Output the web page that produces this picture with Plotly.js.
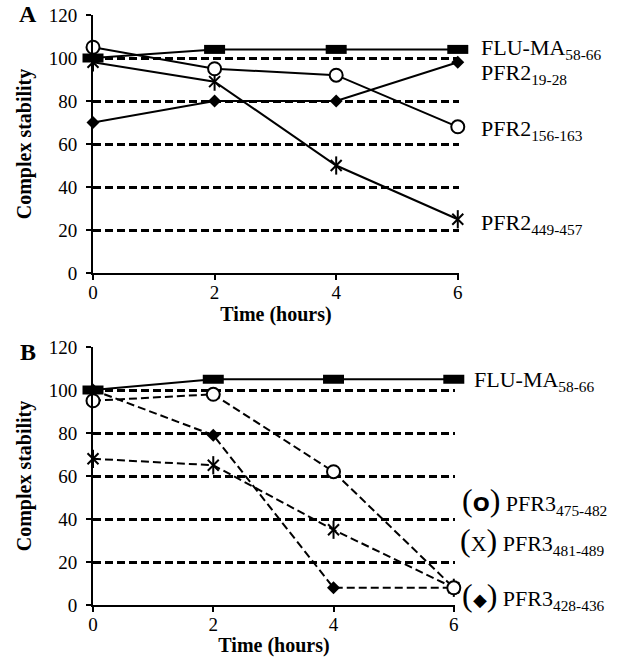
<!DOCTYPE html>
<html>
<head>
<meta charset="utf-8">
<script src="https://cdn.plot.ly/plotly-3.0.1.min.js"></script>
<style>html,body{margin:0;padding:0;background:#fff;}#chart{width:632px;height:657px;}</style>
</head>
<body>
<div id="chart"></div>
<script>
// ---- Data ----
const timeHours = [0, 2, 4, 6];
const xTicks = [0, 2, 4, 6];
const yTicks = [0, 20, 40, 60, 80, 100, 120];

// Panel A
const fluA = [100, 104, 104, 104];
const pfr2_19_28 = [70, 80, 80, 98];
const pfr2_156_163 = [105, 95, 92, 68];
const pfr2_449_457 = [98, 89, 50, 25];

// Panel B
const fluB = [100, 105, 105, 105];
const pfr3_475_482 = [95, 98, 62, 8];
const pfr3_481_489 = [68, 65, 35, 8];
const pfr3_428_436 = [100, 79, 8, 8];

const SERIF = '"Liberation Serif", "Times New Roman", serif';
const BLACK = '#000';
const dashPat = '8px,4px';

function lineTrace(y, xa, ya, dash, marker) {
  return {
    x: timeHours, y: y, xaxis: xa, yaxis: ya, type: 'scatter',
    mode: 'lines+markers', cliponaxis: false, showlegend: false,
    line: {color: BLACK, width: 2, dash: dash},
    marker: marker
  };
}
function markerOnly(y, xa, ya, marker) {
  return {
    x: timeHours, y: y, xaxis: xa, yaxis: ya, type: 'scatter',
    mode: 'markers', cliponaxis: false, showlegend: false, marker: marker
  };
}
const mDiamond = {symbol: 'diamond', size: 10, color: BLACK};
const mCircle = {symbol: 'circle', size: 13, color: '#fff', line: {color: BLACK, width: 2}};
const mX = {symbol: 'x-thin-open', size: 11, color: BLACK, line: {color: BLACK, width: 2}};
const mNS = {symbol: 'line-ns-open', size: 13, color: BLACK, line: {color: BLACK, width: 2}};
const mFlu = {symbol: 'line-ew-open', size: 15, color: BLACK, line: {color: BLACK, width: 9}};

const traces = [
  // Panel A
  lineTrace(pfr2_19_28, 'x', 'y', 'solid', mDiamond),
  lineTrace(pfr2_449_457, 'x', 'y', 'solid', mX),
  markerOnly(pfr2_449_457, 'x', 'y', mNS),
  lineTrace(pfr2_156_163, 'x', 'y', 'solid', mCircle),
  lineTrace(fluA, 'x', 'y', 'solid', mFlu),
  // Panel B
  lineTrace(pfr3_428_436, 'x2', 'y2', dashPat, mDiamond),
  lineTrace(pfr3_481_489, 'x2', 'y2', dashPat, mX),
  markerOnly(pfr3_481_489, 'x2', 'y2', mNS),
  lineTrace(pfr3_475_482, 'x2', 'y2', dashPat, mCircle),
  lineTrace(fluB, 'x2', 'y2', 'solid', mFlu)
];

const W = 632, H = 657;
function yAxis(domTop, domBot) {
  return {
    domain: [1 - domBot / H, 1 - domTop / H],
    range: [0, 120], tickvals: yTicks, ticktext: yTicks.map(String),
    showline: true, linecolor: BLACK, linewidth: 2,
    ticks: 'outside', ticklen: 5, tickwidth: 2, tickcolor: BLACK,
    ticklabelstandoff: 5,
    showgrid: true, gridcolor: BLACK, gridwidth: 3, griddash: dashPat,
    zeroline: false, fixedrange: true,
    tickfont: {family: SERIF, size: 19, color: BLACK},
    title: {text: '<b>Complex stability</b>', font: {family: SERIF, size: 20, color: BLACK}, standoff: 12},
    automargin: false
  };
}
function xAxis(x0, x1, anchor) {
  return {
    domain: [x0 / W, x1 / W], anchor: anchor,
    range: [0, 6.02], tickvals: xTicks, ticktext: xTicks.map(String),
    showline: true, linecolor: BLACK, linewidth: 2,
    ticks: 'outside', ticklen: 5, tickwidth: 2, tickcolor: BLACK,
    ticklabelstandoff: -4,
    showgrid: false, zeroline: false, fixedrange: true,
    tickfont: {family: SERIF, size: 19, color: BLACK},
    title: {text: '<b>Time (hours)</b>', font: {family: SERIF, size: 20, color: BLACK}, standoff: 2},
    automargin: false
  };
}

const sub = (s) => '<sub style="font-size:16px">' + s + '</sub>';
function lab(text, xPix, yVal, yref, size) {
  return {text: text, xref: 'paper', x: xPix / W, yref: yref, y: yVal,
    xanchor: 'left', yanchor: 'middle', showarrow: false,
    font: {family: SERIF, size: size || 22, color: BLACK}};
}
const par = (s) => '<span style="font-size:32px">(</span>' + s + '<span style="font-size:32px">)</span>';

const annotations = [
  {text: '<b>A</b>', xref: 'paper', yref: 'paper', x: 28 / W, y: 1 - 14 / H, xanchor: 'center', yanchor: 'middle',
   showarrow: false, font: {family: SERIF, size: 24, color: BLACK}},
  {text: '<b>B</b>', xref: 'paper', yref: 'paper', x: 28 / W, y: 1 - 352 / H, xanchor: 'center', yanchor: 'middle',
   showarrow: false, font: {family: SERIF, size: 24, color: BLACK}},
  lab('FLU-MA' + sub('58-66'), 479, 104, 'y'),
  lab('PFR2' + sub('19-28'), 479, 92.5, 'y'),
  lab('PFR2' + sub('156-163'), 479, 66.5, 'y'),
  lab('PFR2' + sub('449-457'), 479, 23, 'y'),
  lab('FLU-MA' + sub('58-66'), 472, 104, 'y2'),
  lab(par('<span style="font-family:DejaVu Sans;font-weight:bold;font-size:20px">O</span>') + ' PFR3' + sub('475-482'), 460, 48.5, 'y2'),
  lab(par('X') + ' PFR3' + sub('481-489'), 458, 30, 'y2'),
  lab(par('<span style="font-size:18px">◆</span>') + ' PFR3' + sub('428-436'), 460, 4.5, 'y2')
];

const layout = {
  width: W, height: H,
  margin: {l: 0, r: 0, t: 0, b: 0, pad: 0},
  paper_bgcolor: '#fff', plot_bgcolor: '#fff',
  showlegend: false,
  xaxis: xAxis(93, 459, 'y'),
  yaxis: yAxis(15, 273),
  xaxis2: xAxis(93, 455, 'y2'),
  yaxis2: Object.assign(yAxis(347, 605), {anchor: 'x2'}),
  annotations: annotations
};
layout.yaxis.anchor = 'x';

Plotly.newPlot('chart', traces, layout, {staticPlot: true, displayModeBar: false});
</script>
</body>
</html>
